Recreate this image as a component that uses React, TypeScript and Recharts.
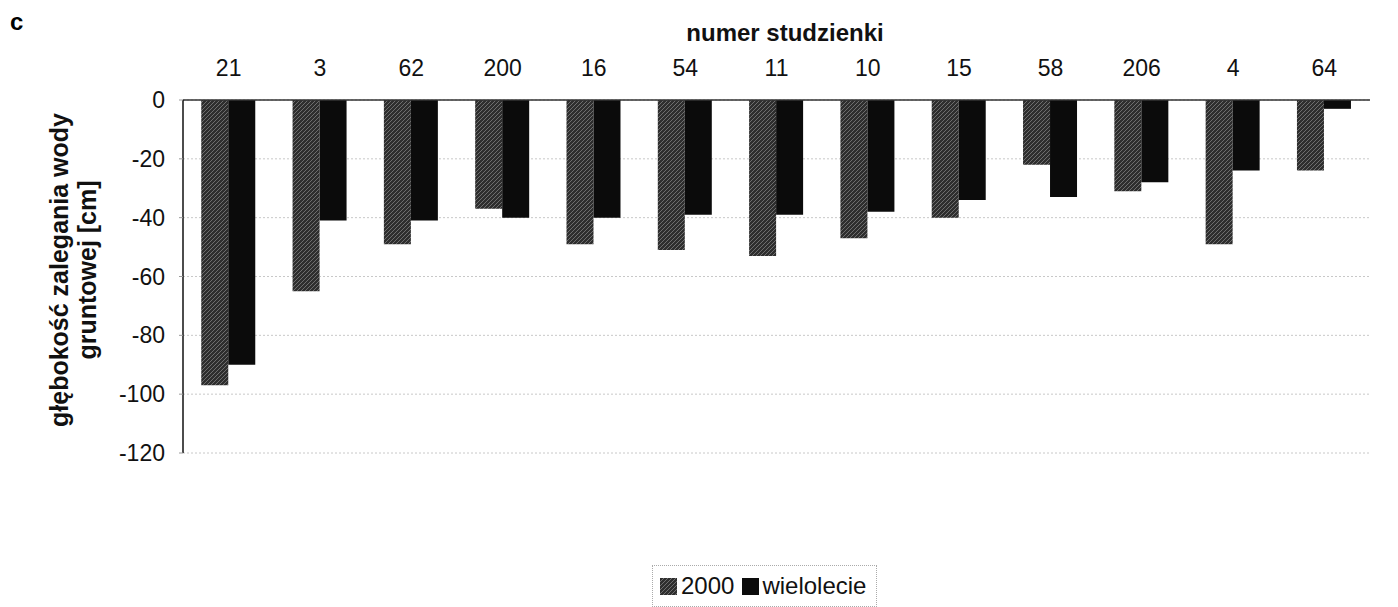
import React from 'react';
import { BarChart, Bar, XAxis, YAxis, CartesianGrid, Legend } from 'recharts';

// numery studzienek (kolejność z wykresu)
const wells = ['21', '3', '62', '200', '16', '54', '11', '10', '15', '58', '206', '4', '64'];
// głębokość zalegania wody gruntowej [cm]
const year2000 = [-97, -65, -49, -37, -49, -51, -53, -47, -40, -22, -31, -49, -24];
const multiYear = [-90, -41, -41, -40, -40, -39, -39, -38, -34, -33, -28, -24, -3];
const yTicks = [0, -20, -40, -60, -80, -100, -120];

const data = wells.map((w, i) => ({ name: w, y2000: year2000[i], wiel: multiYear[i] }));

const FONT = '"Liberation Sans", Arial, sans-serif';

const YLabel = () => (
    <g>
        <text x={68} y={270} transform="rotate(-90 68 270)" textAnchor="middle" fontFamily={FONT} fontWeight="bold" fontSize={25} fill="#111">
            głębokość zalegania wody
        </text>
        <text x={96} y={270} transform="rotate(-90 96 270)" textAnchor="middle" fontFamily={FONT} fontWeight="bold" fontSize={25} fill="#111">
            gruntowej [cm]
        </text>
    </g>
);

const XLabel = () => (
    <text x={785} y={41} textAnchor="middle" fontFamily={FONT} fontWeight="bold" fontSize={24} fill="#111">
        numer studzienki
    </text>
);

const LegendBox = () => (
    <div style={{ position: 'absolute', left: 652, top: 0 }}>
        <div style={{
            border: '1px dotted #aaa',
            padding: '6px 10px 6px 7px',
            display: 'flex',
            alignItems: 'center',
            fontFamily: FONT,
            fontSize: 24,
            color: '#111',
            whiteSpace: 'nowrap',
        }}>
            <svg width={17} height={17} style={{ marginRight: 4 }}>
                <rect width={17} height={17} fill="url(#hatch)" />
            </svg>
            <span style={{ marginRight: 8 }}>2000</span>
            <svg width={17} height={17} style={{ marginRight: 3 }}>
                <rect width={17} height={17} fill="#0b0b0b" />
            </svg>
            <span>wielolecie</span>
        </div>
    </div>
);

const App: React.FC = () => {
    return (
        <div style={{ position: 'absolute', left: 0, top: 0, width: 1398, height: 607, background: '#fff' }}>
            <div style={{ position: 'absolute', left: 10, top: 8, fontFamily: FONT, fontWeight: 'bold', fontSize: 24 }}>c</div>
            <BarChart
                width={1398}
                height={607}
                data={data}
                margin={{ top: 70, right: 28, left: 0, bottom: 94 }}
                barGap={0}
                barCategoryGap="20%"
            >
                <defs>
                    <pattern id="hatch" patternUnits="userSpaceOnUse" width={4} height={4}>
                        <rect width={4} height={4} fill="#2e2e2e" />
                        <path d="M0,4 L4,0" stroke="#6e6e6e" strokeWidth={1} />
                    </pattern>
                </defs>
                <CartesianGrid vertical={false} stroke="#c8c8c8" strokeDasharray="2 2" />
                <XAxis
                    dataKey="name"
                    orientation="top"
                    height={30}
                    tickLine={false}
                    tickSize={0}
                    tickMargin={24}
                    axisLine={{ stroke: '#333', strokeWidth: 1.5 }}
                    tick={{ fill: '#111', fontSize: 23, fontFamily: FONT }}
                    interval={0}
                    label={<XLabel />}
                />
                <YAxis
                    domain={[-120, 0]}
                    ticks={yTicks}
                    width={183}
                    tickSize={4}
                    tickMargin={14}
                    tickLine={{ stroke: '#999' }}
                    axisLine={{ stroke: '#111', strokeWidth: 1.5 }}
                    tick={{ fill: '#111', fontSize: 23, fontFamily: FONT }}
                    label={<YLabel />}
                />
                <YAxis
                    yAxisId="r"
                    orientation="right"
                    width={0}
                    domain={[-120, 0]}
                    tick={false}
                    tickLine={false}
                    axisLine={{ stroke: '#bbb', strokeDasharray: '2 2' }}
                />
                <Legend
                    verticalAlign="bottom"
                    height={60}
                    wrapperStyle={{ top: 565, bottom: 'auto', left: 0, width: 1398 }}
                    content={<LegendBox />}
                />
                <Bar dataKey="y2000" name="2000" fill="url(#hatch)" isAnimationActive={false} />
                <Bar dataKey="wiel" name="wielolecie" fill="#0b0b0b" isAnimationActive={false} />
            </BarChart>
        </div>
    );
};

export default App;
